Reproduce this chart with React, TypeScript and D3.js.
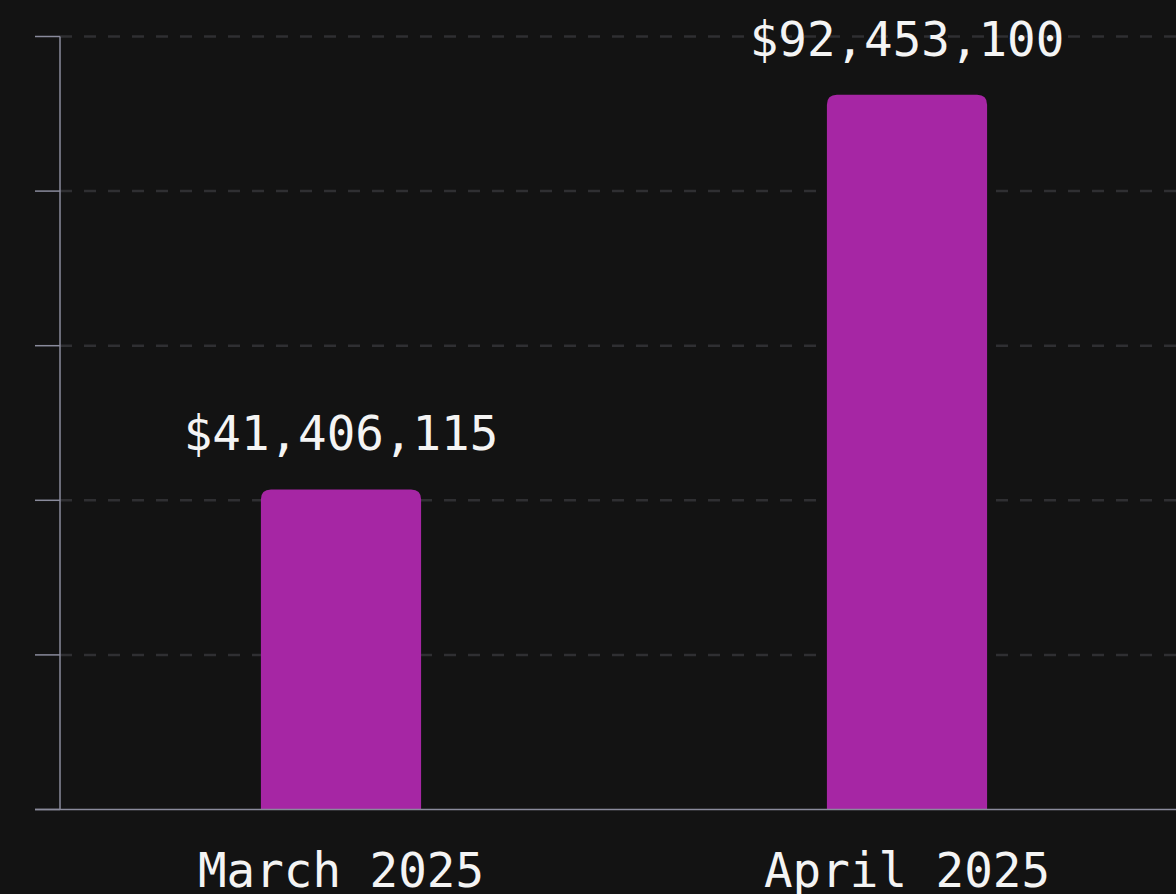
import React from "react";
import * as d3 from "d3";

const categories: string[] = ["March 2025", "April 2025"];
const values: number[] = [41406115, 92453100];
const yTicks: number[] = [0, 20000000, 40000000, 60000000, 80000000, 100000000];

const W = 1176;
const H = 894;
const left = 60;
const top = 36.5;
const bottom = 809.5;

export default function App() {
  const x = d3.scaleBand<string>().domain(categories).range([58, 1190]).padding(0);
  const y = d3.scaleLinear().domain([0, 100000000]).range([bottom, top]);
  const barW = x.bandwidth() * 0.283;
  const r = 10;
  const fmt = (v: number) => "$" + d3.format(",")(v);
  const font = "'DejaVu Sans Mono', monospace";

  const barPath = (cx: number, v: number) => {
    const x0 = cx - barW / 2;
    const x1 = cx + barW / 2;
    const yt = y(v);
    const yb = y(0);
    return `M${x0},${yb}L${x0},${yt + r}Q${x0},${yt} ${x0 + r},${yt}L${x1 - r},${yt}Q${x1},${yt} ${x1},${yt + r}L${x1},${yb}Z`;
  };

  return (
    <svg
      width={W}
      height={H}
      style={{ position: "fixed", left: 0, top: 0, background: "#131313", display: "block" }}
    >
      <rect x={0} y={0} width={W} height={H} fill="#131313" />
      {yTicks.map((t) => (
        <g key={t}>
          {t !== 0 && (
            <line
              x1={left}
              x2={W}
              y1={y(t)}
              y2={y(t)}
              stroke="#2f2f32"
              strokeWidth={2.5}
              strokeDasharray="12 12"
            />
          )}
          <line x1={35} x2={left} y1={y(t)} y2={y(t)} stroke="#8a8b9c" strokeWidth={1.5} />
        </g>
      ))}
      {categories.map((c, i) => {
        const cx = (x(c) as number) + x.bandwidth() / 2;
        return (
          <g key={c}>
            <path d={barPath(cx, values[i])} fill="#a626a4" />
            <text
              x={cx}
              y={y(values[i]) - 39}
              fill="#f4f4f4"
              fontFamily={font}
              fontSize={47.5}
              textAnchor="middle"
            >
              {fmt(values[i])}
            </text>
            <text x={cx} y={887} fill="#f4f4f4" fontFamily={font} fontSize={47.5} textAnchor="middle">
              {c}
            </text>
          </g>
        );
      })}
      <line x1={left} x2={left} y1={top} y2={bottom} stroke="#8a8b9c" strokeWidth={1.5} />
      <line x1={35} x2={W} y1={bottom} y2={bottom} stroke="#8a8b9c" strokeWidth={1.5} />
    </svg>
  );
}
